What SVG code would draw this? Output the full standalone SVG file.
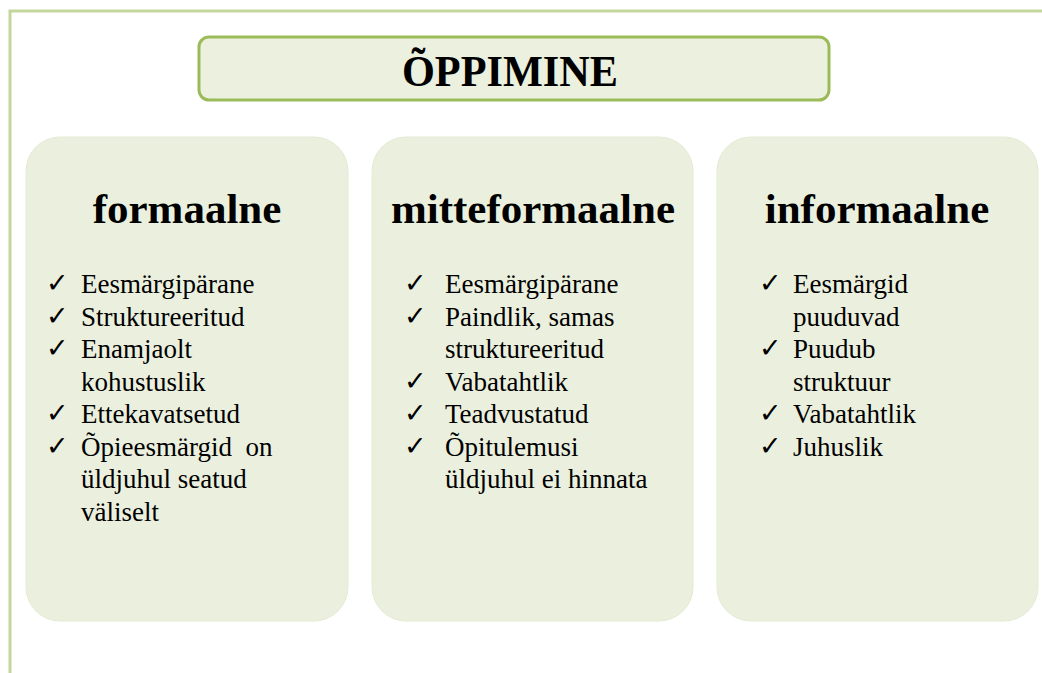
<svg xmlns="http://www.w3.org/2000/svg" width="1042" height="673" viewBox="0 0 1042 673">
<style>
.frame{stroke:#c3d69b;stroke-width:3;fill:none}
.card{fill:#ebf0de;stroke:#e4ebd4;stroke-width:1}
.head{font-family:"Liberation Serif",serif;font-weight:bold;font-size:43px;fill:#000;text-anchor:middle}
.item{font-family:"Liberation Serif",serif;font-size:27px;fill:#000;white-space:pre}
.chk{font-family:"DejaVu Sans",sans-serif;font-size:27px;fill:#000}
</style>
<rect width="1042" height="673" fill="#fff"/>
<g id="frame">
<path class="frame" d="M1042 11 H10 V673"/>
</g>
<g id="title">
<rect x="199" y="37" width="630" height="63" rx="10" fill="#ebf1de" stroke="#9bbb59" stroke-width="3"/>
<text x="510" y="86" font-family="Liberation Serif,serif" font-weight="bold" font-size="45" text-anchor="middle" textLength="216" lengthAdjust="spacingAndGlyphs">ÕPPIMINE</text>
</g>
<g id="formaalne">
<rect class="card" x="26" y="137" width="322" height="484" rx="34"/>
<text class="head" x="187" y="223">formaalne</text>
<text class="chk" x="46" y="292">✓</text>
<text class="item" x="81" y="293">Eesmärgipärane</text>
<text class="chk" x="46" y="324.5">✓</text>
<text class="item" x="81" y="325.5">Struktureeritud</text>
<text class="chk" x="46" y="357">✓</text>
<text class="item" x="81" y="358">Enamjaolt</text>
<text class="item" x="81" y="390.5">kohustuslik</text>
<text class="chk" x="46" y="422">✓</text>
<text class="item" x="81" y="423">Ettekavatsetud</text>
<text class="chk" x="46" y="454.5">✓</text>
<text class="item" x="81" y="455.5">Õpieesmärgid  on</text>
<text class="item" x="81" y="488">üldjuhul seatud</text>
<text class="item" x="81" y="520.5">väliselt</text>
</g>
<g id="mitteformaalne">
<rect class="card" x="372" y="137" width="321" height="484" rx="34"/>
<text class="head" x="533" y="223">mitteformaalne</text>
<text class="chk" x="404" y="292">✓</text>
<text class="item" x="445" y="293">Eesmärgipärane</text>
<text class="chk" x="404" y="324.5">✓</text>
<text class="item" x="445" y="325.5">Paindlik, samas</text>
<text class="item" x="445" y="358">struktureeritud</text>
<text class="chk" x="404" y="389.5">✓</text>
<text class="item" x="445" y="390.5">Vabatahtlik</text>
<text class="chk" x="404" y="422">✓</text>
<text class="item" x="445" y="423">Teadvustatud</text>
<text class="chk" x="404" y="454.5">✓</text>
<text class="item" x="445" y="455.5">Õpitulemusi</text>
<text class="item" x="445" y="488">üldjuhul ei hinnata</text>
</g>
<g id="informaalne">
<rect class="card" x="717" y="137" width="321" height="484" rx="34"/>
<text class="head" x="877" y="223">informaalne</text>
<text class="chk" x="759" y="292">✓</text>
<text class="item" x="793" y="293">Eesmärgid</text>
<text class="item" x="793" y="325.5">puuduvad</text>
<text class="chk" x="759" y="357">✓</text>
<text class="item" x="793" y="358">Puudub</text>
<text class="item" x="793" y="390.5">struktuur</text>
<text class="chk" x="759" y="422">✓</text>
<text class="item" x="793" y="423">Vabatahtlik</text>
<text class="chk" x="759" y="454.5">✓</text>
<text class="item" x="793" y="455.5">Juhuslik</text>
</g>
<g id="connectors"></g>
</svg>
